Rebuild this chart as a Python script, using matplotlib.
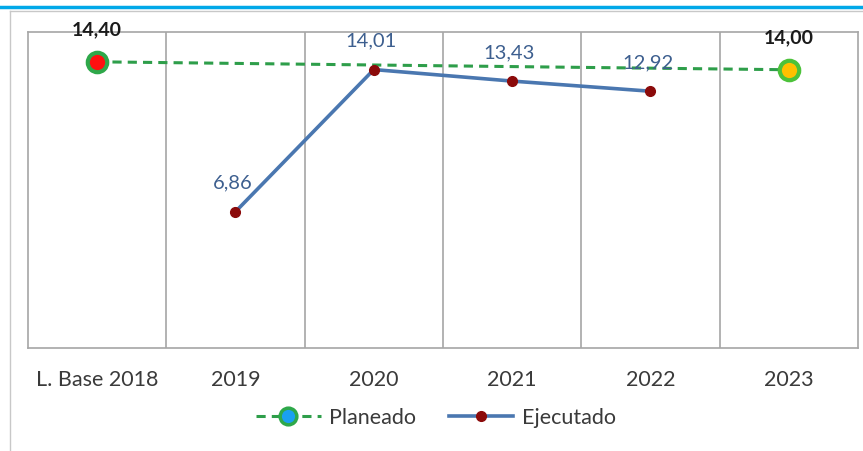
import matplotlib.pyplot as plt
import numpy as np
from matplotlib.lines import Line2D

categories = ["L. Base 2018", "2019", "2020", "2021", "2022", "2023"]
planeado_idx = [0, 5]
planeado = [14.40, 14.00]
ejecutado_idx = [1, 2, 3, 4]
ejecutado = [6.86, 14.01, 13.43, 12.92]

plt.rcParams['font.family'] = ['Lato', 'DejaVu Sans']

fig = plt.figure(figsize=(8.63, 4.51), dpi=100)
ax = fig.add_axes([28 / 863, 1 - 348 / 451, 830 / 863, 316 / 451])

x = np.arange(len(categories))
ax.set_xlim(-0.5, len(categories) - 0.5)
ax.set_ylim(0, 15.9)

# vertical grid between categories
for b in np.arange(0.5, len(categories) - 0.5):
    ax.axvline(b, color="#a6a6a6", lw=1.2, zorder=0)
for s in ax.spines.values():
    s.set_color("#a6a6a6")
    s.set_linewidth(1.2)

# planeado
ax.plot(planeado_idx, planeado, ls=(0, (3, 2)), color="#2e9e4a", lw=2.2, zorder=2)
ax.plot(planeado_idx[0], planeado[0], "o", ms=14, mfc="#ff1010", mec="#2ea84a", mew=3, zorder=3)
ax.plot(planeado_idx[1], planeado[1], "o", ms=14, mfc="#ffc000", mec="#4cc23a", mew=3, zorder=3)
for i, v in zip(planeado_idx, planeado):
    ax.text(i, v + 1.2, f"{v:.2f}".replace(".", ","), ha="center", va="bottom",
            fontsize=14, fontweight="bold", color="#1a1a1a")

# ejecutado
ax.plot(ejecutado_idx, ejecutado, color="#4a77b0", lw=2.6, zorder=4,
        marker="o", ms=7, mfc="#8b0a0a", mec="#8b0a0a")
for i, v in zip(ejecutado_idx, ejecutado):
    ax.text(i - 0.02, v + 1.0, f"{v:.2f}".replace(".", ","), ha="center", va="bottom",
            fontsize=14.5, color="#3d5f8f")

ax.set_xticks(x)
ax.set_xticklabels(categories, fontsize=15.5, color="#3a3a3a")
ax.tick_params(axis="x", length=0, pad=16)
ax.set_yticks([])

handles = [
    Line2D([], [], ls=(0, (3, 2)), color="#2e9e4a", lw=2.2, marker="o", ms=12,
           mfc="#1aa0f0", mec="#2ea84a", mew=2.5),
    Line2D([], [], color="#4a77b0", lw=2.6, marker="o", ms=7, mfc="#8b0a0a", mec="#8b0a0a"),
]
fig.legend(handles, ["Planeado", "Ejecutado"], loc="center", bbox_to_anchor=(436 / 863, 1 - 418 / 451),
           ncol=2, frameon=False, fontsize=15.5, handlelength=3.0, handletextpad=0.4,
           columnspacing=1.5, labelcolor="#3a3a3a")

# outer frame lines
fig.add_artist(Line2D([0, 1], [1 - 7 / 451] * 2, color="#00a8e8", lw=2.5))
fig.add_artist(Line2D([10 / 863, 1], [1 - 11 / 451] * 2, color="#c8c8c8", lw=1))
fig.add_artist(Line2D([10 / 863] * 2, [0, 1 - 11 / 451], color="#c8c8c8", lw=1))

fig.savefig("out.png", dpi=100)
